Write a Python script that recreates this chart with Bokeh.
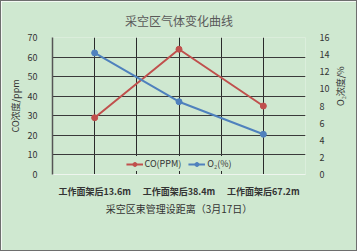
from bokeh.plotting import figure
from bokeh.models import Range1d, LinearAxis, FixedTicker, Legend, LegendItem
from bokeh.embed import file_html
from bokeh.resources import INLINE

# ---- data ----
categories = ["工作面架后13.6m", "工作面架后38.4m", "工作面架后67.2m"]
co_ppm = [29, 64, 35]
o2_pct = [14.2, 8.5, 4.7]
left_ticks = [0, 10, 20, 30, 40, 50, 60, 70]
right_ticks = [0, 2, 4, 6, 8, 10, 12, 14, 16]
right_title = "O₂浓度/%"

BG = "#cfe8d0"
RED = "#c0504d"
BLUE = "#4f81bd"
FONT = "Noto Sans CJK SC"
TXT = "#333333"

x = [i + 0.5 for i in range(len(categories))]
n = len(categories)

p = figure(frame_width=253, frame_height=137, output_backend="svg", toolbar_location=None,
           x_range=Range1d(0, n), y_range=Range1d(left_ticks[0], left_ticks[-1]),
           min_border_left=51, min_border_right=50, min_border_top=35,
           min_border_bottom=76, title="采空区气体变化曲线")
p.extra_y_ranges = {"o2": Range1d(right_ticks[0], right_ticks[-1])}
p.background_fill_color = BG
p.border_fill_color = BG
p.outline_line_color = None
p.styles = {"border": "1px solid #6e6e6e"}

p.title.align = "center"
p.title.text_font = FONT
p.title.text_font_size = "12px"
p.title.text_font_style = "normal"
p.title.text_color = "#595959"
p.title.standoff = 17

# axes
p.xaxis.ticker = FixedTicker(ticks=x)
p.xaxis.major_label_overrides = {xi: c for xi, c in zip(x, categories)}
p.xaxis.axis_label = "采空区束管理设距离（3月17日）"
p.yaxis.ticker = FixedTicker(ticks=left_ticks)
p.yaxis.axis_label = "CO浓度/ppm"

ax_r = LinearAxis(y_range_name="o2", ticker=FixedTicker(ticks=right_ticks))
p.add_layout(ax_r, "right")

# right-side title drawn as the single label of an outer axis, turned to read upward
mid = (right_ticks[0] + right_ticks[-1]) / 2
ax_t = LinearAxis(y_range_name="o2", ticker=FixedTicker(ticks=[mid]),
                  major_label_overrides={mid: right_title})
p.add_layout(ax_t, "right")

for ax in p.axis:
    ax.major_tick_line_color = None
    ax.minor_tick_line_color = None
    ax.major_label_text_font = FONT
    ax.major_label_text_font_size = "9px"
    ax.major_label_text_color = TXT
    ax.axis_label_text_font = FONT
    ax.axis_label_text_font_size = "9px"
    ax.axis_label_text_font_style = "normal"
    ax.axis_label_text_color = TXT
    ax.major_label_standoff = 9
    ax.axis_label_standoff = 3

p.xaxis.major_label_text_font_style = "bold"
p.xaxis.major_label_standoff = 4
p.xaxis.axis_label_standoff = 0
p.xaxis.axis_label_text_font_size = "10px"
p.xaxis.axis_line_color = "#eef5ee"
p.yaxis.axis_line_color = "#555555"
p.yaxis.axis_line_width = 1.5
ax_r.axis_line_color = None
ax_r.major_label_standoff = 8
ax_t.axis_line_color = None
ax_t.major_label_standoff = 2
ax_t.major_label_orientation = 1.5707963267948966

# grids
p.ygrid.ticker = FixedTicker(ticks=left_ticks)
p.ygrid.grid_line_color = "#3a3a3a"
p.ygrid.grid_line_width = 1
p.xgrid.ticker = FixedTicker(ticks=[k * 0.5 for k in range(2 * n + 1)])
p.xgrid.grid_line_color = "#2a2a2a"
p.xgrid.grid_line_width = 1

# series
l1 = p.line(x, co_ppm, color=RED, line_width=2)
s1 = p.scatter(x, co_ppm, size=6, color=RED)
l2 = p.line(x, o2_pct, color=BLUE, line_width=2, y_range_name="o2")
s2 = p.scatter(x, o2_pct, size=6, color=BLUE, y_range_name="o2")

legend = Legend(items=[LegendItem(label="CO(PPM)", renderers=[l1, s1]),
                       LegendItem(label="O₂(%)", renderers=[l2, s2])],
                orientation="horizontal", location="bottom_center")
legend.label_text_font = FONT
legend.label_text_font_size = "9px"
legend.label_text_color = TXT
legend.background_fill_color = BG
legend.background_fill_alpha = 1
legend.border_line_alpha = 0
legend.glyph_width = 17
legend.glyph_height = 10
legend.label_standoff = 2
legend.spacing = 7
legend.padding = 1
legend.margin = 3
p.add_layout(legend, "center")

open("out.html", "w").write(file_html(p, INLINE))
